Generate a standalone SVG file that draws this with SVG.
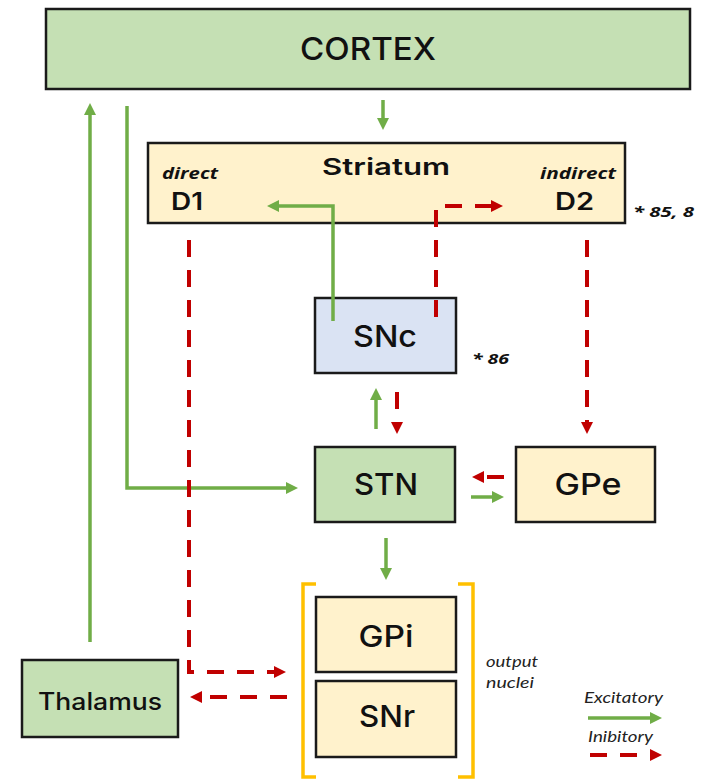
<svg xmlns="http://www.w3.org/2000/svg" width="703" height="780" viewBox="0 0 703 780">
  <style>
    .box { stroke: #1a1a1a; stroke-width: 2.5; }
    .green { fill: #c5e0b4; }
    .cream { fill: #fff2cc; }
    .blue { fill: #dae3f3; }
    .lbl { font-family: "Inter", "Open Sans", sans-serif; font-weight: 500; fill: #111; text-anchor: middle; }
    .semi { font-family: "Inter", "Open Sans", sans-serif; font-weight: 600; fill: #111; }
    .tag { font-family: "Open Sans", "Noto Sans", sans-serif; font-weight: 700; font-style: italic; fill: #111; }
    .note { font-family: "Lato", "Liberation Sans", sans-serif; font-style: italic; fill: #222; }
    .exc { fill: none; stroke: #70ad47; stroke-width: 3.5; }
    .inh { fill: none; stroke: #c00000; stroke-width: 4; stroke-dasharray: 17 13; }
    .bracket { fill: none; stroke: #ffc000; stroke-width: 3.5; }
  </style>
  <defs>
    <marker id="headExc" markerUnits="userSpaceOnUse" markerWidth="14" markerHeight="14" refX="0" refY="6" orient="auto">
      <path d="M0,0 L12,6 L0,12 Z" fill="#70ad47"/>
    </marker>
    <marker id="headInh" markerUnits="userSpaceOnUse" markerWidth="14" markerHeight="14" refX="0" refY="6" orient="auto">
      <path d="M0,0 L12,6 L0,12 Z" fill="#c00000"/>
    </marker>
  </defs>

  <rect width="703" height="780" fill="#ffffff"/>

  <!-- nodes -->
  <g id="cortex">
    <rect class="box green" x="46" y="9" width="644" height="80"/>
    <text class="lbl" x="368" y="60" font-size="31" textLength="136" lengthAdjust="spacingAndGlyphs">CORTEX</text>
  </g>

  <g id="striatum">
    <rect class="box cream" x="148" y="143" width="477" height="80"/>
    <text class="semi" x="386" y="175" font-size="23" text-anchor="middle" textLength="128" lengthAdjust="spacingAndGlyphs">Striatum</text>
    <text class="tag" x="162" y="179" font-size="16" textLength="56" lengthAdjust="spacingAndGlyphs">direct</text>
    <text class="semi" x="171" y="210" font-size="24" textLength="32" lengthAdjust="spacingAndGlyphs">D1</text>
    <text class="tag" x="540" y="179" font-size="16" textLength="76" lengthAdjust="spacingAndGlyphs">indirect</text>
    <text class="semi" x="555" y="210" font-size="24" textLength="39" lengthAdjust="spacingAndGlyphs">D2</text>
  </g>
  <text class="tag" x="633" y="217" font-size="15" textLength="61" lengthAdjust="spacingAndGlyphs">* 85, 8</text>

  <g id="snc">
    <rect class="box blue" x="315" y="298" width="141" height="75"/>
    <text class="lbl" x="385" y="347" font-size="30" textLength="64" lengthAdjust="spacingAndGlyphs">SNc</text>
  </g>
  <text class="tag" x="472" y="364" font-size="15" textLength="37" lengthAdjust="spacingAndGlyphs">* 86</text>

  <g id="stn">
    <rect class="box green" x="315" y="447" width="140" height="75"/>
    <text class="lbl" x="386" y="495" font-size="30" textLength="64" lengthAdjust="spacingAndGlyphs">STN</text>
  </g>

  <g id="gpe">
    <rect class="box cream" x="516" y="447" width="139" height="75"/>
    <text class="lbl" x="588" y="495" font-size="30" textLength="67" lengthAdjust="spacingAndGlyphs">GPe</text>
  </g>

  <g id="gpi">
    <rect class="box cream" x="316" y="597" width="140" height="75"/>
    <text class="lbl" x="386" y="647" font-size="30" textLength="55" lengthAdjust="spacingAndGlyphs">GPi</text>
  </g>

  <g id="snr">
    <rect class="box cream" x="316" y="681" width="140" height="76"/>
    <text class="lbl" x="387" y="727" font-size="30" textLength="56" lengthAdjust="spacingAndGlyphs">SNr</text>
  </g>

  <g id="thalamus">
    <rect class="box green" x="22" y="660" width="156" height="77"/>
    <text class="lbl" x="100" y="710" font-size="24" textLength="124" lengthAdjust="spacingAndGlyphs">Thalamus</text>
  </g>

  <!-- output nuclei bracket -->
  <g id="output-nuclei">
    <path class="bracket" d="M316,584 H303 V777 H316"/>
    <path class="bracket" d="M458,584 H473 V777 H458"/>
    <text class="note" x="486" y="667" font-size="15" textLength="52" lengthAdjust="spacingAndGlyphs">output</text>
    <text class="note" x="486" y="688" font-size="15" textLength="48" lengthAdjust="spacingAndGlyphs">nuclei</text>
  </g>

  <!-- connectors -->
  <g id="connectors">
    <!-- excitatory -->
    <path class="exc" d="M90,642 V115" marker-end="url(#headExc)"/>
    <path class="exc" d="M127,106 V488 H286" marker-end="url(#headExc)"/>
    <path class="exc" d="M383,100 V118" marker-end="url(#headExc)"/>
    <path class="exc" d="M333,321 V206 H279" marker-end="url(#headExc)"/>
    <path class="exc" d="M376,429 V400" marker-end="url(#headExc)"/>
    <path class="exc" d="M471,497 H492" marker-end="url(#headExc)"/>
    <path class="exc" d="M386,538 V568" marker-end="url(#headExc)"/>
    <!-- inhibitory -->
    <path class="inh" d="M436,317 V206 H491" marker-end="url(#headInh)"/>
    <path class="inh" d="M397,392 V422" marker-end="url(#headInh)"/>
    <path class="inh" d="M587,240 V422" marker-end="url(#headInh)"/>
    <path class="inh" d="M504,477 H484" marker-end="url(#headInh)"/>
    <path class="inh" d="M189,240 V672 H274" marker-end="url(#headInh)"/>
    <path class="inh" d="M287,697 H202" marker-end="url(#headInh)"/>
  </g>

  <!-- legend -->
  <g id="legend">
    <text class="note" x="584" y="703" font-size="16" textLength="79" lengthAdjust="spacingAndGlyphs">Excitatory</text>
    <path class="exc" d="M588,718 H650" marker-end="url(#headExc)"/>
    <text class="note" x="588" y="742" font-size="16" textLength="65" lengthAdjust="spacingAndGlyphs">Inibitory</text>
    <path class="inh" d="M590,755 H650" marker-end="url(#headInh)"/>
  </g>
</svg>
